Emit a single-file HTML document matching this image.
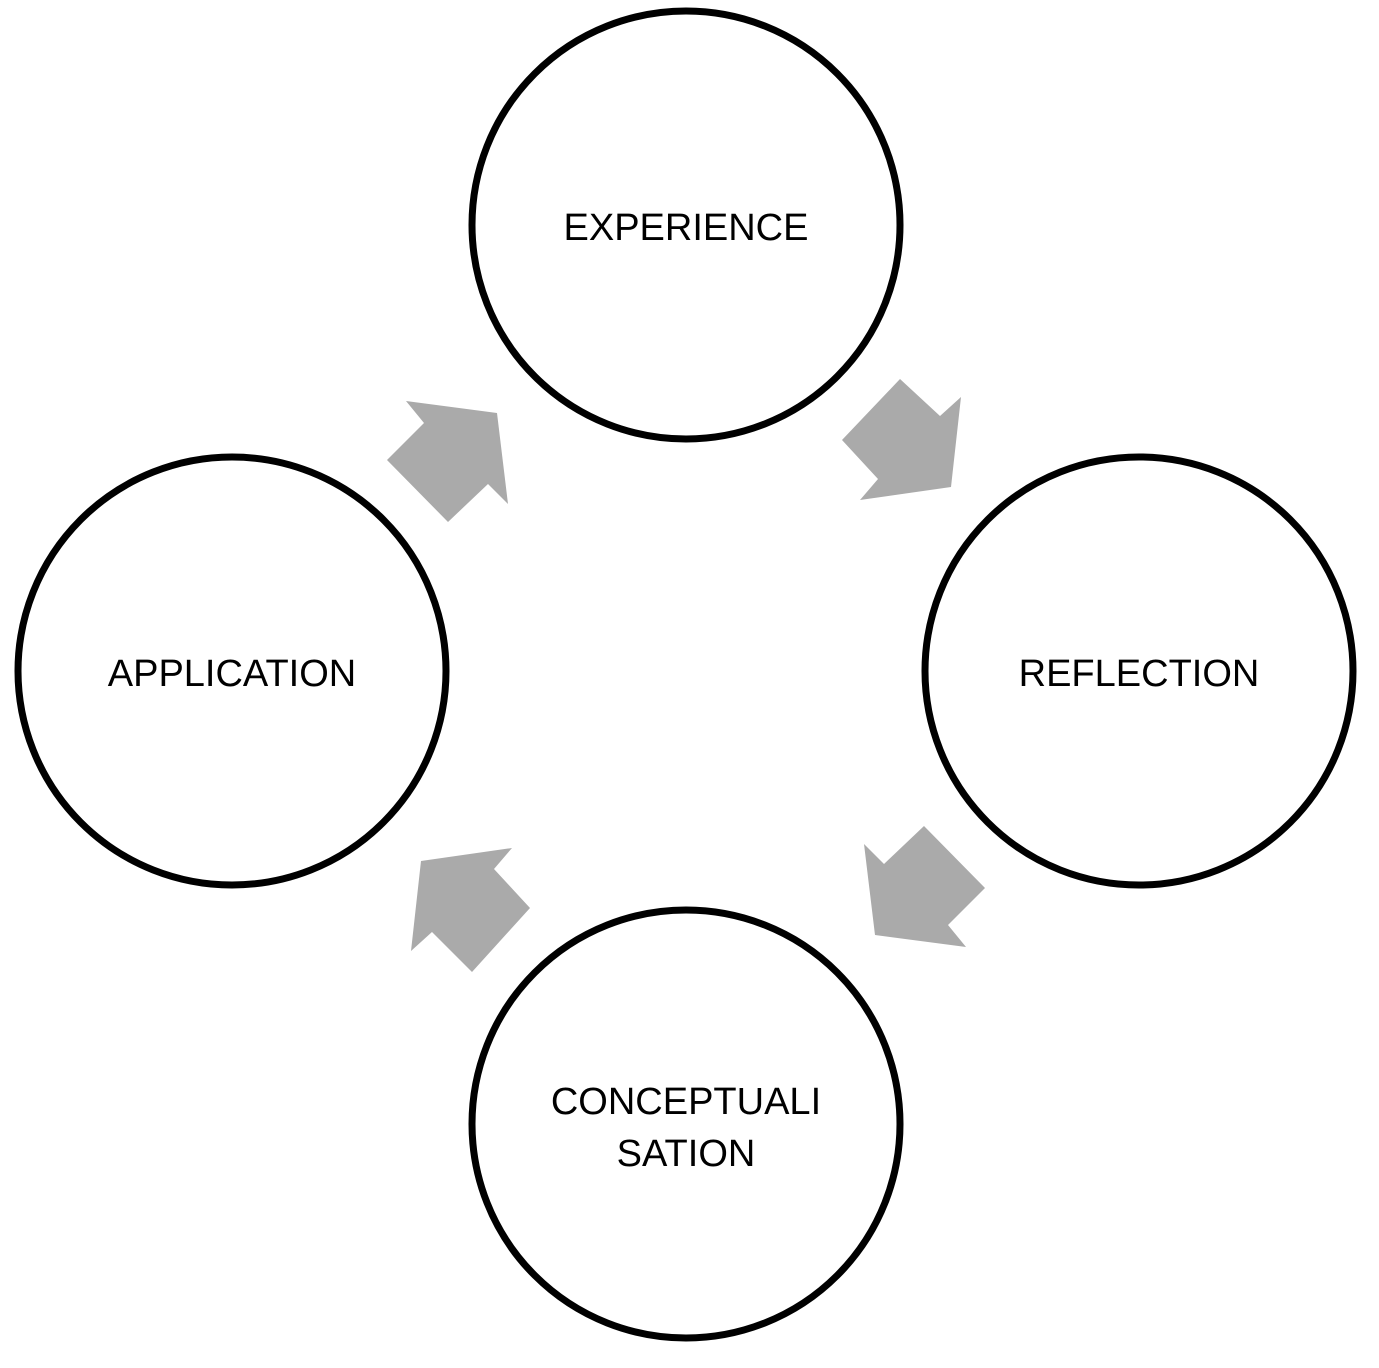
<!DOCTYPE html>
<html><head><style>
html,body{margin:0;padding:0;background:#fff;}
svg{display:block;}
text{font-family:"Liberation Sans",sans-serif;font-size:38px;fill:#000;text-anchor:middle;}
</style></head><body>
<svg width="1379" height="1368" viewBox="0 0 1379 1368" xmlns="http://www.w3.org/2000/svg">
<g fill="none" stroke="#000" stroke-width="7">
<circle cx="686" cy="225" r="214"/>
<circle cx="1139" cy="671" r="214"/>
<circle cx="232" cy="671" r="214"/>
<circle cx="686" cy="1124" r="214"/>
</g>
<g fill="#aaaaaa">
<polygon points="900,379 940,416 961,397 951,487 860,500 878,479 842,440"/>
<polygon points="406,401 497,413 508,504 488,484 448,522 387,460 424,423"/>
<polygon points="966,947 875,935 864,844 884,864 924,826 985,888 948,925"/>
<polygon points="472,972 432,932 411,951 421,861 512,848 494,869 530,908"/>
</g>
<text x="686" y="240">EXPERIENCE</text>
<text x="1139" y="686">REFLECTION</text>
<text x="232" y="686">APPLICATION</text>
<text x="686" y="1114">CONCEPTUALI</text>
<text x="686" y="1166">SATION</text>
</svg>
</body></html>
